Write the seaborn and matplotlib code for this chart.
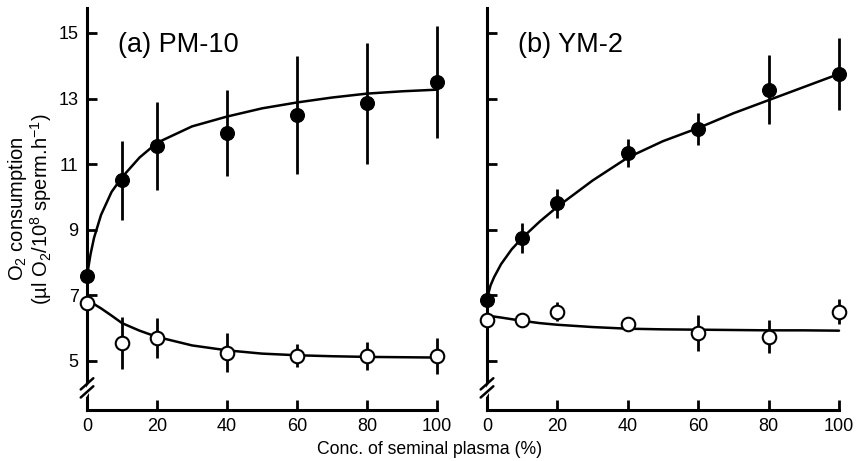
import numpy as np
import pandas as pd
import seaborn as sns
import matplotlib.pyplot as plt

# =====================
# DATA
# =====================
conc = [0, 10, 20, 40, 60, 80, 100]

a_filled = [7.6, 10.5, 11.55, 11.95, 12.5, 12.85, 13.5]
a_filled_err = [0.15, 1.2, 1.35, 1.3, 1.8, 1.85, 1.7]
a_open = [6.75, 5.55, 5.7, 5.25, 5.15, 5.15, 5.15]
a_open_err = [0.2, 0.8, 0.6, 0.6, 0.35, 0.42, 0.55]

b_filled = [6.86, 8.75, 9.8, 11.35, 12.07, 13.27, 13.76]
b_filled_err = [0.2, 0.45, 0.45, 0.43, 0.5, 1.05, 1.1]
b_open = [6.25, 6.25, 6.5, 6.13, 5.86, 5.73, 6.5]
b_open_err = [0.1, 0.15, 0.3, 0.15, 0.55, 0.5, 0.38]

# fitted curves, traced point by point
curve_x = [0, 1, 2, 4, 7, 10, 15, 20, 30, 40, 50, 60, 70, 80, 90, 100]
a_filled_curve = [7.6, 8.25, 8.75, 9.45, 10.15, 10.6, 11.2, 11.65, 12.15, 12.45,
                  12.7, 12.88, 13.03, 13.15, 13.22, 13.27]
a_open_curve = [6.86, 6.8, 6.73, 6.6, 6.38, 6.15, 5.92, 5.73, 5.47, 5.32,
                5.22, 5.17, 5.14, 5.12, 5.11, 5.1]
b_filled_curve = [6.9, 7.3, 7.55, 7.95, 8.4, 8.75, 9.25, 9.7, 10.5, 11.2,
                  11.7, 12.1, 12.55, 12.95, 13.35, 13.75]
b_open_curve = [6.38, 6.37, 6.35, 6.32, 6.27, 6.22, 6.15, 6.1, 6.03, 5.98,
                5.96, 5.95, 5.94, 5.93, 5.93, 5.92]

yticks = [5, 7, 9, 11, 13, 15]
xticks = [0, 20, 40, 60, 80, 100]

# =====================
# STYLE
# =====================
sns.set_style("ticks")
plt.rcParams['font.family'] = ['Liberation Sans', 'DejaVu Sans']
plt.rcParams['mathtext.fontset'] = 'custom'
plt.rcParams['mathtext.rm'] = 'Liberation Sans'
plt.rcParams['mathtext.it'] = 'Liberation Sans'
for k in ['text.color', 'axes.edgecolor', 'axes.labelcolor',
          'xtick.color', 'ytick.color']:
    plt.rcParams[k] = 'black'

fig = plt.figure(figsize=(8.6, 4.61), dpi=100)
ax_a = fig.add_axes([0.1012, 0.1106, 0.407, 0.872])
ax_b = fig.add_axes([0.5663, 0.1106, 0.4093, 0.872])

panels = [
    (ax_a, "(a) PM-10", a_filled, a_filled_err, a_open, a_open_err,
     a_filled_curve, a_open_curve),
    (ax_b, "(b) YM-2", b_filled, b_filled_err, b_open, b_open_err,
     b_filled_curve, b_open_curve),
]

for ax, title, fy, fe, oy, oe, fc, oc in panels:
    curves = pd.DataFrame({"x": curve_x * 2,
                           "y": fc + oc,
                           "grp": ["filled"] * len(curve_x) + ["open"] * len(curve_x)})
    sns.lineplot(data=curves, x="x", y="y", units="grp", estimator=None,
                 color="black", lw=1.8, ax=ax, zorder=2)

    for yy, ee in [(fy, fe), (oy, oe)]:
        ax.errorbar(conc, yy, yerr=ee, fmt="none", ecolor="black",
                    elinewidth=2, capsize=0, zorder=3)
    sns.scatterplot(x=conc, y=fy, color="black", s=100, edgecolor="black",
                    ax=ax, zorder=4)
    sns.scatterplot(x=conc, y=oy, color="white", s=95, edgecolor="black",
                    linewidth=1.5, ax=ax, zorder=4)
    for art in ax.lines + ax.collections:
        art.set_clip_on(False)

    ax.set_xlim(0, 100)
    ax.set_ylim(3.5, 15.76)
    ax.set_xticks(xticks)
    ax.set_yticks(yticks)
    ax.tick_params(direction="in", length=7, width=2, labelsize=13, pad=6)
    sns.despine(ax=ax)
    for s in ["left", "bottom"]:
        ax.spines[s].set_linewidth(2.2)
    ax.set_xlabel("")
    ax.set_ylabel("")
    ax.text(0.088, 0.908, title, transform=ax.transAxes, fontsize=19.5,
            ha="left", va="center")

    # axis break marks on the y axis
    yb = (4.2 - 3.5) / (15.76 - 3.5)
    ax.plot([-0.012, 0.012], [yb - 0.025, yb + 0.005], transform=ax.transAxes,
            color="white", lw=4, clip_on=False, zorder=5)
    for dy in [-0.012, 0.008]:
        ax.plot([-0.018, 0.018], [yb + dy - 0.014, yb + dy + 0.014],
                transform=ax.transAxes, color="black", lw=1.8,
                clip_on=False, zorder=6)

ax_b.set_yticklabels([])

ax_a.set_ylabel("O$_2$ consumption\n(µl O$_2$/10$^8$ sperm.h$^{-1}$)",
                fontsize=14.5, linespacing=0.95)
ax_a.yaxis.set_label_coords(-0.095, 0.5)
fig.text(0.5, 0.024, "Conc. of seminal plasma (%)", ha="center",
         va="center", fontsize=12.7)

plt.savefig("out.png", dpi=100)
